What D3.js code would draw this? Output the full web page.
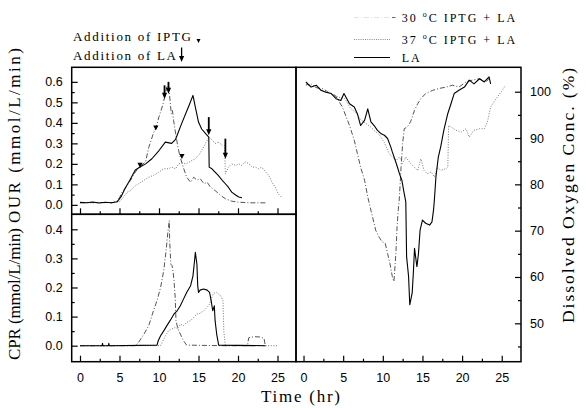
<!DOCTYPE html>
<html>
<head>
<meta charset="utf-8">
<script src="https://cdn.jsdelivr.net/npm/d3@7"></script>
<style>
  body { margin: 0; background: #fff; }
  svg { display: block; }
</style>
</head>
<body>
<div id="chart"></div>
<script>
// time axis ticks (hr)
var timeTicks = [0, 5, 10, 15, 20, 25];
var timeMinor = [2.5, 7.5, 12.5, 17.5, 22.5];
var ourTicks = [0, 0.1, 0.2, 0.3, 0.4, 0.5, 0.6];
var ourMinor = [0.05, 0.15, 0.25, 0.35, 0.45, 0.55];
var cprTicks = [0, 0.1, 0.2, 0.3, 0.4];
var cprMinor = [0.05, 0.15, 0.25, 0.35];
var doTicks = [50, 60, 70, 80, 90, 100];
var doMinor = [45, 55, 65, 75, 85, 95];

var seriesNames = ["30 \u00b0C IPTG + LA", "37 \u00b0C IPTG + LA", "LA"];

// OUR (mmol/L/min) vs time
var our30 = [[0,0.01],[2,0.012],[4,0.01],[4.6,0.015],[5,0.035],[5.3,0.06],[5.7,0.08],[6.4,0.12],[7,0.16],[7.4,0.18],[8.3,0.21],[8.7,0.28],[9.3,0.35],[9.6,0.375],[10,0.43],[10.5,0.49],[10.8,0.54],[11,0.575],[11.2,0.59],[11.4,0.51],[11.55,0.445],[11.7,0.46],[11.85,0.41],[12.1,0.35],[12.4,0.28],[12.7,0.23],[13.1,0.18],[13.5,0.135],[14,0.11],[14.4,0.135],[14.8,0.12],[15.2,0.128],[15.7,0.103],[16.1,0.11],[16.5,0.087],[17.1,0.07],[17.8,0.046],[18.4,0.03],[19.2,0.018],[20.1,0.013],[21.5,0.01],[23.5,0.01]];
var our37 = [[0,0.01],[2,0.01],[4,0.012],[5,0.015],[5.5,0.038],[6,0.062],[6.4,0.07],[6.8,0.087],[7.4,0.103],[8.1,0.12],[8.7,0.135],[9.3,0.144],[10,0.16],[10.6,0.176],[11.2,0.176],[11.6,0.184],[12.1,0.176],[12.5,0.2],[12.9,0.205],[13.3,0.2],[13.8,0.208],[14.2,0.217],[14.6,0.225],[15,0.24],[15.4,0.266],[15.9,0.3],[16.3,0.33],[16.7,0.318],[17.1,0.3],[17.6,0.305],[18,0.29],[18.3,0.29],[18.4,0.15],[18.8,0.184],[19.2,0.2],[19.7,0.192],[20.1,0.2],[20.5,0.192],[20.9,0.21],[21.4,0.2],[21.8,0.184],[22.2,0.184],[22.6,0.176],[23,0.184],[23.5,0.16],[23.9,0.144],[24.3,0.11],[24.7,0.087],[25.1,0.054],[25.6,0.033]];
var ourLA = [[0,0.012],[0.8,0.01],[1.6,0.014],[2.4,0.009],[3.2,0.013],[4,0.01],[4.7,0.015],[5.2,0.04],[5.7,0.08],[6.3,0.12],[7,0.17],[7.4,0.18],[8.3,0.2],[9.1,0.225],[10,0.265],[10.8,0.306],[11.6,0.3],[12.1,0.32],[12.9,0.4],[13.8,0.485],[14.3,0.534],[14.6,0.477],[15,0.404],[15.4,0.37],[15.9,0.347],[16.3,0.33],[16.35,0.184],[16.7,0.176],[17.1,0.16],[17.5,0.144],[18,0.12],[18.4,0.103],[18.8,0.085],[19.2,0.062],[19.7,0.048],[20.1,0.038],[20.5,0.035]];

// CPR (mmol/L/min) vs time
var cpr30 = [[0,0],[7,0],[7.4,0.011],[8.1,0.04],[8.7,0.069],[9.3,0.12],[9.75,0.155],[10.2,0.2],[10.6,0.258],[10.9,0.327],[11.1,0.384],[11.3,0.43],[11.35,0.36],[11.5,0.28],[11.65,0.275],[11.8,0.25],[11.9,0.223],[12.05,0.166],[12.15,0.086],[12.4,0.057],[12.7,0.04],[13.1,0.017],[13.5,0.002],[18,0],[21.2,0],[21.35,0.027],[22,0.031],[22.8,0.03],[23.3,0.025],[23.45,0]];
var cpr37 = [[0,0],[10.2,0],[10.4,0.011],[10.8,0.034],[11.2,0.051],[11.6,0.057],[12.1,0.063],[12.4,0.057],[12.7,0.074],[13.1,0.069],[13.5,0.08],[14,0.086],[14.4,0.097],[14.8,0.109],[15.2,0.111],[15.65,0.12],[16.1,0.132],[16.4,0.143],[16.6,0.16],[16.9,0.18],[17.3,0.183],[17.8,0.172],[18.1,0.155],[18.2,0.052],[18.4,0],[25.1,0]];
var cprLA = [[0,0],[2.8,0],[2.85,0.008],[2.9,0],[3.6,0],[3.65,0.008],[3.7,0],[9.75,0.002],[9.9,0.017],[10.2,0.034],[10.6,0.051],[11,0.069],[11.4,0.086],[11.9,0.109],[12.3,0.12],[12.7,0.137],[13.1,0.16],[13.5,0.183],[14,0.206],[14.3,0.24],[14.5,0.292],[14.6,0.321],[14.8,0.28],[14.9,0.206],[15,0.183],[15.2,0.191],[15.65,0.195],[16.1,0.191],[16.4,0.183],[16.6,0.155],[16.8,0.12],[17,0.137],[17.1,0.086],[17.3,0.04],[17.55,0.002],[20,0.001],[23.5,0]];

// dissolved oxygen (%) vs time
var do30 = [[0.3,101.7],[1,101.2],[1.8,100.8],[2.5,100.6],[3.2,99.8],[4,99.2],[4.9,96.7],[5.4,94.5],[5.8,92.7],[6.4,89.5],[6.8,86.6],[7.2,83.7],[7.7,80.9],[8.1,77.3],[8.5,74.4],[8.7,73],[9.1,70.1],[9.5,68.7],[9.9,67.6],[10.3,67.3],[10.6,65.1],[10.9,62.9],[11.2,60.1],[11.4,59],[11.65,65.1],[11.8,70.9],[11.95,74.5],[12.1,77.3],[12.3,83.7],[12.5,88.8],[12.7,92],[13.1,92.4],[13.5,93.5],[14,96],[14.4,97.4],[14.8,98.5],[15.4,99.6],[16.3,100.3],[17.1,100.7],[18,101],[18.8,101.4],[19.6,101],[20.5,102.1],[21.3,102.5],[22.2,102.8],[23,102.1],[23.6,103.2]];
var do37 = [[0.3,101.4],[1,101.6],[1.7,100.9],[2.4,100.2],[3.1,99.9],[3.8,99.2],[4.5,98.8],[5.2,98.5],[5.9,96.5],[6.6,95.5],[7.2,94],[7.8,93.2],[8.4,92.5],[9,91.5],[9.6,90.6],[10.2,89],[10.8,86.6],[11.2,85.9],[11.7,85.2],[12.1,85.9],[12.5,84.5],[12.9,85.9],[13.5,84.5],[14,83.7],[14.4,83],[14.8,85.5],[15.2,83],[15.6,82.3],[16.1,82.7],[16.5,81.6],[16.9,83.7],[17.3,83],[18,83.4],[18.2,83.7],[18.3,92.7],[18.6,92.4],[19.2,91.7],[19.9,91.3],[20.5,92],[20.9,90.2],[21.5,91.7],[22.2,92],[22.8,92],[23.2,93.5],[23.6,96.7],[24.3,98.5],[24.9,99.9],[25.5,101.4]];
var doLA = [[0.3,102.1],[0.95,101],[1.6,101.4],[2.2,100.3],[2.8,99.9],[3.5,99.6],[4.1,98.5],[4.7,98.1],[5.1,99.6],[5.8,97.4],[6.4,96.7],[6.8,95.2],[7.2,92.7],[7.7,93.8],[8.1,96.3],[8.5,93.5],[8.9,92.7],[9.3,91.7],[9.8,90.9],[10.2,90.6],[10.6,89.9],[11,88.1],[11.2,87],[11.7,84.5],[12.1,82.3],[12.4,80.9],[12.7,78],[12.9,76.2],[13,64.4],[13.25,60.1],[13.4,54],[13.7,56.5],[13.85,60.8],[14,66.2],[14.3,62.2],[14.5,65.1],[14.7,70.1],[15,72.3],[15.4,71.6],[15.9,71.2],[16.2,71.9],[16.4,74.5],[16.5,76.5],[16.7,81.6],[17,85.9],[17.3,88.1],[17.7,91.7],[18.2,95.3],[18.6,97.4],[19,99.6],[19.6,100.3],[20.3,101],[20.9,102.5],[21.5,101.7],[22.2,102.8],[22.8,102.1],[23.4,103.2],[23.6,101.7]];

// markers on the OUR panel: IPTG (triangle) and LA (arrow: [t, tip, top])
var iptgMarks = [[7.6, 0.193], [9.6, 0.375], [12.9, 0.236]];
var laMarks = [[10.7, 0.518, 0.583], [11.2, 0.542, 0.6], [16.3, 0.339, 0.428], [18.4, 0.225, 0.323]];

var width = 586, height = 408;
var serif = "'Liberation Serif', 'DejaVu Serif', serif";
var sans = "'Liberation Sans', Arial, sans-serif";

var styles = [
  {stroke: "#555", dash: "5,2,1,2", width: 1},
  {stroke: "#777", dash: "1,1.6", width: 1},
  {stroke: "#000", dash: null, width: 1.1}
];

var svg = d3.select("#chart").append("svg")
    .attr("width", width)
    .attr("height", height);

svg.append("rect").attr("width", width).attr("height", height).attr("fill", "#fff");

var xL = d3.scaleLinear().domain([-1.05, 27.34]).range([71.7, 296]),
    xR = d3.scaleLinear().domain([-0.95, 27.43]).range([296, 521]);
var yOUR = d3.scaleLinear().domain([-0.046, 0.671]).range([214.3, 67.3]),
    yCPR = d3.scaleLinear().domain([-0.055, 0.4515]).range([361.7, 214.3]),
    yDO = d3.scaleLinear().domain([41.71, 105.27]).range([361.7, 67.3]);

function panel(xs, ys, opt) {
  var g = svg.append("g");
  var y0 = ys.range()[0];

  g.append("g")
      .attr("transform", "translate(0," + y0 + ")")
      .call(d3.axisBottom(xs).tickValues(timeTicks).tickSize(-6).tickPadding(11)
        .tickFormat(opt.xLabels ? d3.format("d") : ""));
  g.append("g")
      .attr("transform", "translate(0," + y0 + ")")
      .call(d3.axisBottom(xs).tickValues(timeMinor).tickSize(-3).tickFormat(""));

  var yAxis = opt.right ? d3.axisRight : d3.axisLeft;
  var ax = opt.right ? xs.range()[1] : xs.range()[0];
  g.append("g")
      .attr("transform", "translate(" + ax + ",0)")
      .call(yAxis(ys).tickValues(opt.yTicks).tickSize(-6).tickPadding(9).tickFormat(opt.fmt));
  g.append("g")
      .attr("transform", "translate(" + ax + ",0)")
      .call(yAxis(ys).tickValues(opt.yMinor).tickSize(-3).tickFormat(""));

  g.selectAll(".domain").remove();
  g.selectAll(".tick line").attr("stroke", "#000").attr("stroke-width", 1.2);
  g.selectAll(".tick text")
      .attr("fill", "#000")
      .attr("font-family", sans)
      .attr("font-size", 12.5);

  g.append("rect")
      .attr("x", xs.range()[0])
      .attr("y", ys.range()[1])
      .attr("width", xs.range()[1] - xs.range()[0])
      .attr("height", ys.range()[0] - ys.range()[1])
      .attr("fill", "none")
      .attr("stroke", "#000")
      .attr("stroke-width", 1.5);
}

function curves(xs, ys, list) {
  var line = d3.line()
      .x(function(d) { return xs(d[0]); })
      .y(function(d) { return ys(d[1]); });
  svg.append("g").selectAll("path")
    .data(list)
    .enter().append("path")
      .attr("d", function(d) { return line(d); })
      .attr("fill", "none")
      .attr("stroke", function(d, i) { return styles[i].stroke; })
      .attr("stroke-width", function(d, i) { return styles[i].width; })
      .attr("stroke-dasharray", function(d, i) { return styles[i].dash; })
      .attr("stroke-linejoin", "round");
}

curves(xL, yOUR, [our30, our37, ourLA]);
curves(xL, yCPR, [cpr30, cpr37, cprLA]);
curves(xR, yDO, [do30, do37, doLA]);

panel(xL, yOUR, {xLabels: false, yTicks: ourTicks, yMinor: ourMinor, fmt: d3.format(".1f")});
panel(xL, yCPR, {xLabels: true, yTicks: cprTicks, yMinor: cprMinor, fmt: d3.format(".1f")});
panel(xR, yDO, {xLabels: true, right: true, yTicks: doTicks, yMinor: doMinor, fmt: d3.format("d")});

// markers
function triangle(g, cx, cy, s) {
  g.append("path")
      .attr("d", "M" + (cx - s) + "," + (cy - s) + "L" + (cx + s) + "," + (cy - s) + "L" + cx + "," + (cy + s) + "Z")
      .attr("fill", "#000");
}
function arrow(g, x, yTop, yTip, w) {
  g.append("line")
      .attr("x1", x).attr("x2", x)
      .attr("y1", yTop).attr("y2", yTip - 4)
      .attr("stroke", "#000").attr("stroke-width", w);
  g.append("path")
      .attr("d", "M" + (x - 2.6) + "," + (yTip - 6) + "L" + (x + 2.6) + "," + (yTip - 6) + "L" + x + "," + yTip + "Z")
      .attr("fill", "#000");
}

var marks = svg.append("g");
iptgMarks.forEach(function(d) { triangle(marks, xL(d[0]), yOUR(d[1]), 2.6); });
laMarks.forEach(function(d) { arrow(marks, xL(d[0]), yOUR(d[2]), yOUR(d[1]), 1.8); });

// header notes
var note = svg.append("g")
    .attr("font-family", serif)
    .attr("font-size", 13)
    .attr("letter-spacing", 1.7)
    .attr("fill", "#000");
note.append("text").attr("x", 73).attr("y", 40.5).text("Addition of IPTG");
note.append("text").attr("x", 73).attr("y", 60).text("Addition of LA");
triangle(note, 198.5, 41, 2);
arrow(note, 181.6, 47.5, 62, 1.3);

// legend
var legend = svg.append("g")
    .attr("font-family", serif)
    .attr("font-size", 12)
    .attr("letter-spacing", 2)
    .attr("fill", "#000");
var legendY = [17.5, 39.5, 57.5];
var legendLine = [
  {stroke: "#e2e2e2", dash: "5,2,1,2", width: 1},
  {stroke: "#888", dash: "1,1.2", width: 1},
  {stroke: "#000", dash: null, width: 1}
];
seriesNames.forEach(function(name, i) {
  legend.append("line")
      .attr("x1", 354).attr("x2", 390)
      .attr("y1", legendY[i]).attr("y2", legendY[i])
      .attr("stroke", legendLine[i].stroke)
      .attr("stroke-width", legendLine[i].width)
      .attr("stroke-dasharray", legendLine[i].dash);
  var t = legend.append("text").attr("x", 401.7).attr("y", legendY[i] + 4.2);
  var deg = name.indexOf("\u00b0");
  if (deg < 0) {
    t.text(name);
  } else {
    t.append("tspan").text(name.slice(0, deg));
    t.append("tspan").attr("dy", -5).attr("font-size", 8).text("o");
    t.append("tspan").attr("dy", 5).text(name.slice(deg + 1));
  }
});
// the only visible bit of the first legend sample
legend.append("line")
    .attr("x1", 392).attr("x2", 395.5)
    .attr("y1", legendY[0]).attr("y2", legendY[0])
    .attr("stroke", "#666").attr("stroke-width", 1);

// axis titles
svg.append("text")
    .attr("x", 300.5).attr("y", 402)
    .attr("text-anchor", "middle")
    .attr("font-family", serif).attr("font-size", 17)
    .attr("textLength", 79).attr("lengthAdjust", "spacing")
    .text("Time (hr)");

svg.append("text")
    .attr("transform", "translate(20,135.5) rotate(-90)")
    .attr("text-anchor", "middle")
    .attr("font-family", serif).attr("font-size", 17)
    .attr("textLength", 175).attr("lengthAdjust", "spacing")
    .text("OUR (mmol/L/min)");

svg.append("text")
    .attr("transform", "translate(20,294) rotate(-90)")
    .attr("text-anchor", "middle")
    .attr("font-family", serif).attr("font-size", 17)
    .attr("textLength", 132).attr("lengthAdjust", "spacing")
    .text("CPR (mmol/L/min)");

svg.append("text")
    .attr("transform", "translate(573.5,195.5) rotate(-90)")
    .attr("text-anchor", "middle")
    .attr("font-family", serif).attr("font-size", 17.5)
    .attr("textLength", 255).attr("lengthAdjust", "spacing")
    .text("Dissolved Oxygen Conc. (%)");
</script>
</body>
</html>
